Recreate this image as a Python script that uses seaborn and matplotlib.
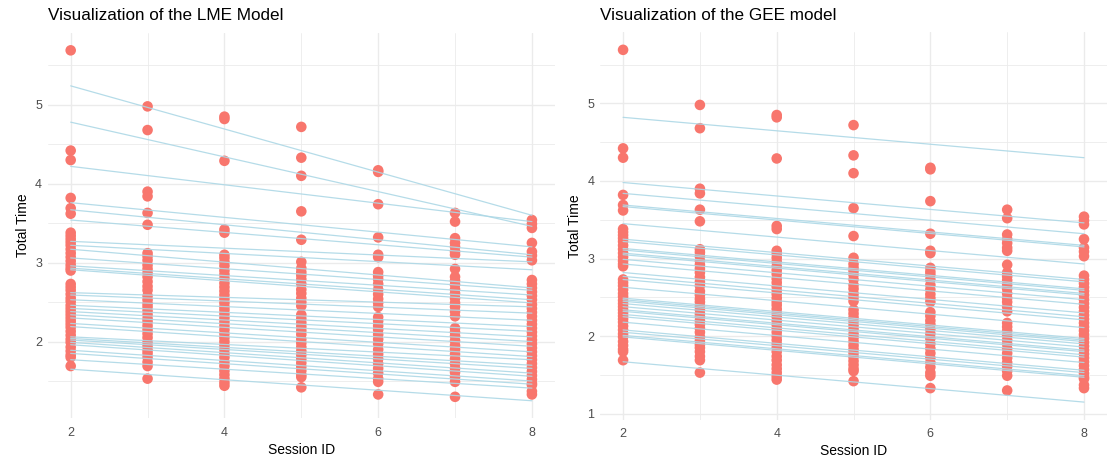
import numpy as np
import pandas as pd
import matplotlib
matplotlib.use("Agg")
import matplotlib.pyplot as plt
from matplotlib.ticker import MultipleLocator
import seaborn as sns

sessions = [2, 3, 4, 5, 6, 7, 8]
time_s2 = [5.69, 4.42, 4.30, 3.82, 3.69, 3.62, 3.38, 3.34, 3.30, 3.26, 3.22, 3.17, 3.12,
           3.07, 3.02, 2.97, 2.93, 2.90, 2.73, 2.69, 2.65, 2.60, 2.55, 2.51, 2.46, 2.42,
           2.38, 2.34, 2.30, 2.26, 2.22, 2.18, 2.13, 2.08, 2.03, 1.99, 1.93, 1.88, 1.83,
           1.80, 1.69]
time_s3 = [4.98, 4.68, 3.90, 3.84, 3.63, 3.48, 3.12, 3.08, 3.03, 2.97, 2.92, 2.87, 2.82,
           2.76, 2.70, 2.65, 2.58, 2.53, 2.48, 2.44, 2.39, 2.34, 2.29, 2.25, 2.20, 2.15,
           2.10, 2.05, 1.99, 1.94, 1.89, 1.85, 1.80, 1.74, 1.69, 1.53]
time_s4 = [4.85, 4.82, 4.29, 3.42, 3.38, 3.10, 3.06, 3.01, 2.96, 2.90, 2.85, 2.80, 2.74,
           2.69, 2.64, 2.59, 2.54, 2.49, 2.44, 2.40, 2.35, 2.30, 2.25, 2.20, 2.15, 2.10,
           2.05, 2.00, 1.95, 1.90, 1.85, 1.80, 1.74, 1.69, 1.63, 1.58, 1.53, 1.48, 1.44]
time_s5 = [4.72, 4.33, 4.10, 3.65, 3.29, 3.01, 2.93, 2.88, 2.84, 2.79, 2.73, 2.66, 2.61,
           2.55, 2.50, 2.45, 2.34, 2.29, 2.24, 2.19, 2.14, 2.09, 2.03, 1.98, 1.93, 1.88,
           1.83, 1.78, 1.73, 1.68, 1.63, 1.58, 1.55, 1.42]
time_s6 = [4.17, 4.15, 3.74, 3.32, 3.10, 3.07, 2.88, 2.83, 2.79, 2.73, 2.66, 2.60, 2.54,
           2.49, 2.44, 2.31, 2.26, 2.20, 2.15, 2.09, 2.03, 1.97, 1.90, 1.84, 1.78, 1.72,
           1.66, 1.60, 1.53, 1.49, 1.33]
time_s7 = [3.63, 3.52, 3.31, 3.25, 3.20, 3.14, 3.10, 2.92, 2.82, 2.77, 2.72, 2.66, 2.61,
           2.55, 2.49, 2.44, 2.38, 2.32, 2.17, 2.12, 2.07, 2.01, 1.95, 1.90, 1.84, 1.78,
           1.72, 1.66, 1.61, 1.55, 1.49, 1.30]
time_s8 = [3.54, 3.49, 3.44, 3.25, 3.14, 3.09, 3.03, 2.78, 2.73, 2.68, 2.63, 2.58, 2.53,
           2.47, 2.42, 2.37, 2.32, 2.27, 2.22, 2.17, 2.12, 2.07, 2.02, 1.97, 1.92, 1.87,
           1.82, 1.77, 1.72, 1.67, 1.62, 1.57, 1.52, 1.47, 1.45, 1.37, 1.33]

# fitted lines per subject: value at session 2 and at session 8
lme_start = [5.24, 4.78, 4.22, 3.76, 3.67, 3.54, 3.27, 3.22, 3.17, 3.06, 2.96, 2.93, 2.91,
             2.62, 2.59, 2.53, 2.46, 2.42, 2.38, 2.34, 2.30, 2.23, 2.19, 2.06, 2.04, 2.02,
             1.99, 1.96, 1.89, 1.85, 1.77, 1.65]
lme_end = [3.60, 3.46, 3.52, 3.20, 3.10, 3.07, 3.01, 2.91, 2.68, 2.65, 2.59, 2.53, 2.49,
           2.44, 2.36, 2.27, 2.19, 2.13, 2.06, 2.00, 1.94, 1.87, 1.81, 1.77, 1.70, 1.66,
           1.60, 1.56, 1.50, 1.46, 1.41, 1.25]
gee_start = [4.82, 3.98, 3.84, 3.69, 3.67, 3.45, 3.25, 3.22, 3.13, 3.11, 3.07, 3.05, 2.99,
             2.93, 2.82, 2.77, 2.73, 2.63, 2.49, 2.47, 2.45, 2.42, 2.38, 2.34, 2.32, 2.28,
             2.25, 2.18, 2.08, 2.05, 2.01, 1.99, 1.67]
gee_end = [4.30, 3.46, 3.32, 3.17, 3.15, 2.93, 2.73, 2.70, 2.61, 2.59, 2.55, 2.53, 2.47,
           2.41, 2.30, 2.25, 2.21, 2.11, 1.97, 1.95, 1.93, 1.90, 1.86, 1.82, 1.80, 1.76,
           1.73, 1.66, 1.56, 1.53, 1.49, 1.47, 1.15]

obs = pd.DataFrame({
    "session": np.repeat(sessions, [len(time_s2), len(time_s3), len(time_s4), len(time_s5),
                                    len(time_s6), len(time_s7), len(time_s8)]),
    "total_time": time_s2 + time_s3 + time_s4 + time_s5 + time_s6 + time_s7 + time_s8,
})


def fit_frame(start, end):
    rows = []
    for i, (a, b) in enumerate(zip(start, end)):
        rows.append({"subject": i, "session": sessions[0], "fit": a})
        rows.append({"subject": i, "session": sessions[-1], "fit": b})
    return pd.DataFrame(rows)


sns.set_style("white")
plt.rcParams["font.family"] = ["Liberation Sans", "DejaVu Sans"]

fig, axes = plt.subplots(1, 2, figsize=(11.18, 4.59), dpi=100)
axes[0].set_position([0.0426, 0.0887, 0.4538, 0.8398])
axes[1].set_position([0.5367, 0.0856, 0.4535, 0.8442])

panels = [
    (axes[0], fit_frame(lme_start, lme_end), "Visualization of the LME Model"),
    (axes[1], fit_frame(gee_start, gee_end), "Visualization of the GEE model"),
]

for ax, fits, title in panels:
    sns.scatterplot(data=obs, x="session", y="total_time", color="#F8766D", s=58,
                    edgecolor="none", linewidth=0, ax=ax, zorder=2)
    sns.lineplot(data=fits, x="session", y="fit", units="subject", estimator=None,
                 color="#ADD8E6", linewidth=0.9, alpha=0.9, ax=ax, zorder=3)
    ax.xaxis.set_major_locator(MultipleLocator(2))
    ax.xaxis.set_minor_locator(MultipleLocator(1))
    ax.yaxis.set_major_locator(MultipleLocator(1))
    ax.yaxis.set_minor_locator(MultipleLocator(0.5))
    ax.grid(which="major", color="#EBEBEB", linewidth=1.0)
    ax.grid(which="minor", color="#EBEBEB", linewidth=0.6)
    ax.set_axisbelow(True)
    for sp in ax.spines.values():
        sp.set_visible(False)
    ax.tick_params(which="both", length=0, labelsize=9, labelcolor="#4D4D4D")
    ax.tick_params(axis="x", pad=6)
    ax.tick_params(axis="y", pad=4)
    ax.set_xlabel("Session ID", fontsize=10, color="black", labelpad=3)
    ax.set_ylabel("Total Time", fontsize=10, color="black", labelpad=4)
    ax.set_title(title, loc="left", fontsize=12.3, color="black", pad=9)

fig.savefig("out.png", dpi=100, facecolor="white")
